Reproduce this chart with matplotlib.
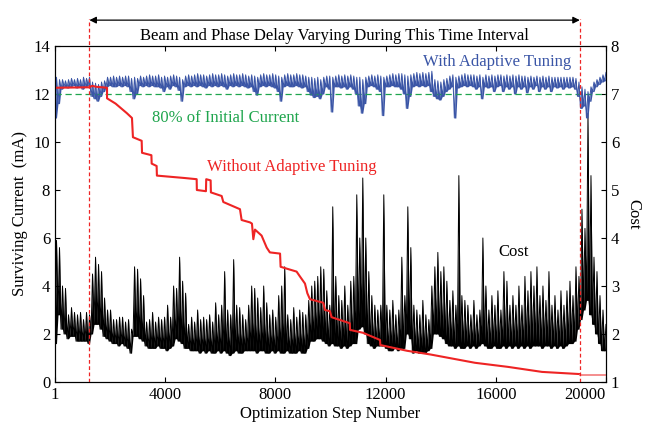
import numpy as np
import matplotlib
matplotlib.use('Agg')
import matplotlib.pyplot as plt

plt.rcParams['font.family'] = 'serif'
plt.rcParams['font.serif'] = ['Liberation Serif', 'DejaVu Serif']

# ---- data ----
# cost: alternating low / high readings of the dense noisy trace (right axis)
cost = [
    1.8, 3.95, 2.4, 3.8, 2.1, 3.0, 2.0, 2.95, 1.9, 2.4, 1.95, 2.55, 1.95, 2.45, 1.85, 2.4, 1.85, 2.45, 1.85, 2.3,
    1.85, 2.45, 1.8, 2.4, 2.0, 3.25, 2.2, 3.6, 2.2, 3.45, 2.1, 3.3, 1.95, 2.75, 1.9, 2.5, 1.85, 2.5, 1.8, 2.3,
    1.8, 2.3, 1.75, 2.35, 1.8, 2.35, 1.75, 2.25, 1.7, 2.3, 1.6, 2.1, 1.95, 3.4, 1.95, 3.35, 1.9, 3.15, 1.85, 2.8,
    1.75, 2.25, 1.7, 2.3, 1.7, 2.45, 1.7, 2.25, 1.75, 2.35, 1.7, 2.3, 1.7, 2.35, 1.65, 2.6, 1.7, 2.35, 1.75, 3.0,
    1.9, 2.95, 1.85, 3.6, 1.8, 3.1, 1.7, 2.85, 1.7, 2.2, 1.65, 2.35, 1.65, 2.25, 1.65, 2.5, 1.6, 2.3, 1.65, 2.35,
    1.6, 2.3, 1.65, 2.4, 1.6, 2.25, 1.6, 2.65, 1.65, 2.4, 1.6, 2.6, 1.65, 3.3, 1.6, 2.5, 1.55, 2.4, 1.6, 3.55,
    1.65, 2.6, 1.6, 2.55, 1.6, 2.4, 1.65, 2.3, 1.65, 2.6, 1.65, 3.0, 1.65, 2.95, 1.6, 2.75, 1.65, 2.55, 1.65, 3.0,
    1.6, 2.65, 1.6, 2.4, 1.65, 2.5, 1.6, 2.35, 1.65, 2.8, 1.6, 3.0, 1.6, 3.4, 1.65, 2.4, 1.6, 2.3, 1.6, 2.55,
    1.6, 2.35, 1.65, 2.5, 1.6, 2.45, 1.6, 2.4, 1.7, 2.7, 1.85, 3.0, 1.85, 3.1, 1.9, 3.2, 1.9, 3.4, 1.85, 3.35,
    1.8, 2.9, 1.75, 2.6, 1.8, 4.65, 1.75, 3.2, 1.75, 2.8, 1.7, 2.7, 1.75, 3.0, 1.7, 2.6, 1.75, 3.1, 1.8, 3.2,
    1.8, 4.9, 2.1, 4.0, 2.15, 5.25, 2.0, 4.0, 1.8, 3.3, 1.75, 2.8, 1.7, 2.6, 1.75, 2.5, 1.75, 2.6, 1.75, 4.9,
    1.7, 2.6, 1.65, 2.5, 1.65, 2.7, 1.7, 2.4, 1.65, 2.5, 1.7, 3.6, 1.7, 2.8, 2.0, 4.65, 1.9, 3.8, 1.6, 2.6,
    1.65, 2.5, 1.6, 2.4, 1.6, 2.7, 1.6, 2.4, 1.65, 2.3, 1.7, 3.0, 2.0, 3.4, 2.0, 3.7, 1.95, 3.3, 1.9, 3.4,
    1.8, 3.1, 1.75, 2.7, 1.75, 2.9, 1.7, 2.6, 1.75, 5.3, 1.7, 2.8, 1.7, 2.7, 1.75, 2.6, 1.7, 2.4, 1.75, 2.7,
    1.7, 2.4, 1.75, 2.5, 1.8, 4.0, 1.75, 3.0, 1.7, 2.5, 1.7, 2.8, 1.75, 2.6, 1.7, 2.9, 1.7, 2.5, 1.75, 3.3,
    1.7, 3.1, 1.75, 2.6, 1.7, 2.8, 1.75, 2.6, 1.7, 3.0, 1.75, 2.6, 1.7, 3.2, 1.75, 2.9, 1.7, 3.3, 1.75, 3.0,
    1.75, 3.4, 1.75, 2.8, 1.7, 3.0, 1.75, 2.7, 1.75, 3.3, 1.7, 2.6, 1.75, 2.8, 1.7, 2.5, 1.75, 2.9, 1.7, 2.6,
    1.75, 2.9, 1.8, 3.1, 1.8, 2.8, 1.85, 3.4, 2.1, 3.2, 2.3, 4.6, 2.5, 4.2, 2.7, 6.6, 2.4, 5.3, 2.2, 3.6,
    2.0, 3.3, 1.8, 2.8, 1.65, 2.5, 1.65, 2.2,
]

# surviving current with adaptive tuning (mA), alternating low / high readings
with_tuning = [
    11.0, 12.7, 11.6, 12.6, 12.2, 12.6, 12.3, 12.55, 12.25, 12.6, 12.3, 12.65, 12.35, 12.6, 12.25, 12.65, 12.3, 12.6, 12.2, 12.7,
    12.3, 12.65, 12.35, 12.7, 11.9, 12.5, 11.8, 12.45, 11.7, 12.4, 11.9, 12.5, 12.1, 12.55, 12.3, 12.7, 12.35, 12.7, 12.3, 12.75,
    12.3, 12.7, 12.35, 12.75, 12.3, 12.7, 12.35, 12.75, 12.3, 12.75, 12.1, 12.65, 11.8, 12.7, 12.0, 12.65, 12.35, 12.75, 12.3, 12.7,
    12.35, 12.75, 12.3, 12.8, 12.35, 12.75, 12.3, 12.75, 12.3, 12.8, 12.25, 12.7, 12.1, 12.75, 12.3, 12.7, 12.2, 12.75, 12.35, 12.8,
    12.3, 12.75, 12.15, 12.7, 11.7, 12.6, 12.3, 12.75, 12.35, 12.8, 12.3, 12.75, 12.35, 12.8, 12.3, 12.85, 12.35, 12.8, 12.3, 12.8,
    12.25, 12.75, 12.35, 12.8, 12.3, 12.85, 12.35, 12.8, 12.3, 12.8, 12.35, 12.85, 12.3, 12.8, 12.2, 12.75, 12.35, 12.8, 12.3, 12.85,
    12.35, 12.8, 12.3, 12.8, 12.35, 12.85, 12.3, 12.8, 12.25, 12.75, 12.3, 12.8, 12.1, 12.75, 11.95, 12.7, 12.3, 12.8, 12.35, 12.85,
    12.3, 12.8, 12.35, 12.8, 12.3, 12.85, 12.25, 12.8, 12.1, 12.75, 11.7, 12.7, 12.3, 12.8, 12.35, 12.85, 12.3, 12.8, 12.3, 12.8,
    12.35, 12.85, 12.3, 12.8, 12.25, 12.8, 12.3, 12.75, 12.1, 12.7, 11.95, 12.7, 11.85, 12.65, 11.9, 12.7, 11.8, 12.6, 12.0, 12.7,
    12.3, 12.75, 12.2, 12.75, 11.25, 12.7, 12.3, 12.75, 12.3, 12.8, 12.25, 12.75, 12.3, 12.8, 12.2, 12.75, 12.3, 12.8, 12.2, 12.75,
    12.0, 12.7, 11.5, 12.7, 11.2, 12.6, 11.6, 12.7, 12.3, 12.75, 12.35, 12.8, 12.3, 12.75, 12.2, 12.8, 12.1, 12.75, 11.1, 12.7,
    12.3, 12.75, 12.3, 12.8, 12.35, 12.85, 12.3, 12.8, 12.3, 12.85, 12.2, 12.85, 12.0, 12.8, 11.4, 12.75, 11.9, 12.8, 12.3, 12.85,
    12.35, 12.9, 12.3, 12.85, 12.35, 12.9, 12.3, 12.85, 12.35, 12.9, 12.1, 12.95, 11.9, 12.6, 11.8, 12.55, 11.75, 12.5, 11.9, 12.6,
    12.1, 12.65, 12.2, 12.75, 12.3, 12.8, 11.0, 12.7, 12.25, 12.75, 12.3, 12.8, 12.35, 12.85, 12.3, 12.8, 12.35, 12.8, 12.3, 12.8,
    12.2, 12.75, 12.3, 12.8, 11.8, 12.7, 12.3, 12.8, 12.25, 12.75, 12.3, 12.8, 12.1, 12.75, 12.3, 12.8, 12.35, 12.8, 12.1, 12.75,
    12.3, 12.8, 12.2, 12.75, 12.3, 12.8, 12.0, 12.75, 12.3, 12.8, 12.2, 12.75, 12.3, 12.75, 12.05, 12.7, 12.3, 12.75, 12.2, 12.7,
    12.35, 12.75, 12.1, 12.7, 12.3, 12.75, 12.2, 12.7, 12.3, 12.75, 12.1, 12.7, 12.3, 12.7, 12.25, 12.7, 12.3, 12.7, 12.2, 12.7,
    12.3, 12.7, 12.25, 12.7, 12.3, 12.7, 12.2, 12.65, 11.9, 12.5, 11.4, 12.3, 11.5, 12.2, 11.0, 12.1, 11.7, 12.3, 12.1, 12.5,
    12.3, 12.6, 12.4, 12.7, 12.5, 12.8, 12.55, 12.9,
]

# surviving current without adaptive tuning (mA)
without_steps = [1, 600, 1250, 1350, 1500, 1890, 1890, 2200, 2610, 2795, 2830, 3147, 3160, 3500, 3510,
                 3690, 3700, 4200, 4700, 5143, 5150, 5480, 5490, 5650, 5660, 6050, 6110, 6715, 6775,
                 7080, 7150, 7200, 7260, 7500, 7685, 7800, 8170, 8190, 8770, 8890, 9075, 9160, 9255,
                 9740, 9800, 9980, 10040, 10700, 10710, 11180, 11800, 11810, 12780, 13610, 15245,
                 16440, 17680, 19050]
without_vals = [12.26, 12.27, 12.28, 12.34, 12.3, 12.26, 11.82, 11.6, 11.2, 11.0, 10.2, 10.05, 9.55, 9.45, 9.1,
                9.0, 8.6, 8.55, 8.5, 8.45, 8.0, 7.95, 8.45, 8.4, 7.9, 7.75, 7.5, 7.2, 6.75,
                6.65, 6.6, 5.95, 6.35, 6.1, 5.6, 5.4, 5.35, 4.8, 4.6, 4.4, 4.1, 3.7, 3.45,
                3.3, 3.0, 2.95, 2.7, 2.45, 2.17, 2.05, 1.75, 1.54, 1.3, 1.15, 0.8,
                0.63, 0.42, 0.33]
after_steps = [19050, 20000]
after_vals = [0.3, 0.3]

initial_80 = 12.0
interval = [1250, 19050]

x_ticks = [1, 4000, 8000, 12000, 16000, 20000]
left_ticks = [0, 2, 4, 6, 8, 10, 12, 14]
right_ticks = [1, 2, 3, 4, 5, 6, 7, 8]

BLUE = '#3a55a6'
RED = '#ee2424'
GREEN = '#1fa54d'


def noisy_band(ax, values, color, lw):
    """Draw low/high zigzag readings as a filled noisy band."""
    vals = np.asarray(values)
    x = np.linspace(1, 20000, len(vals))
    floor = np.repeat(vals[0::2], 2)
    ax.fill_between(x, floor, vals, color=color, linewidth=0)
    ax.plot(x, vals, color=color, linewidth=lw)


fig = plt.figure(figsize=(6.47, 4.28), dpi=100)
axc = fig.add_axes([0.085, 0.1075, 0.8516, 0.785])
axm = axc.twinx()
axc.yaxis.tick_right()
axc.yaxis.set_label_position('right')
axm.yaxis.tick_left()
axm.yaxis.set_label_position('left')

# cost trace (drawn underneath the current traces)
noisy_band(axc, cost, 'black', 0.7)
axc.set_xlim(1, 20000)
axc.set_ylim(1, 8)
axc.set_yticks(right_ticks)
axc.set_xticks(x_ticks)
axc.set_xticklabels([str(t) for t in x_ticks])
axc.get_xticklabels()[-1].set_horizontalalignment('right')
axc.set_ylabel('Cost', rotation=270, labelpad=16, fontsize=12)
axc.set_xlabel('Optimization Step Number', fontsize=12, labelpad=2)
axc.tick_params(axis='both', direction='in', length=3.5, labelsize=12, top=True)

# current traces
axm.axhline(initial_80, color=GREEN, linestyle='--', linewidth=0.9, dashes=(5, 3))
noisy_band(axm, with_tuning, BLUE, 0.7)
axm.plot(without_steps, without_vals, color=RED, linewidth=1.5)
axm.plot(after_steps, after_vals, color='#f27a7a', linewidth=1.2)
axm.set_xlim(1, 20000)
axm.set_ylim(0, 14)
axm.set_yticks(left_ticks)
axm.set_ylabel('Surviving Current  (mA)', fontsize=12, labelpad=4)
axm.tick_params(axis='y', direction='in', length=3.5, labelsize=12)

# interval markers
for xv in interval:
    axm.plot([xv, xv], [0, 14 * 1.08], color=RED, linestyle='--', linewidth=0.9,
             dashes=(3, 2), clip_on=False)
axm.annotate('', xy=(interval[0], 14 * 1.077), xytext=(interval[1], 14 * 1.077),
             arrowprops=dict(arrowstyle='<|-|>', color='black', lw=0.9,
                             mutation_scale=10, shrinkA=0, shrinkB=0),
             annotation_clip=False)
axm.text(10130, 14 * 1.03, 'Beam and Phase Delay Varying During This Time Interval',
         ha='center', va='center', fontsize=12, clip_on=False)

axm.text(16045, 13.33, 'With Adaptive Tuning', color=BLUE, ha='center', va='center', fontsize=12)
axm.text(6207, 11.0, '80% of Initial Current', color=GREEN, ha='center', va='center', fontsize=12)
axm.text(8600, 8.96, 'Without Adaptive Tuning', color=RED, ha='center', va='center', fontsize=12)
axm.text(16660, 5.42, 'Cost', color='black', ha='center', va='center', fontsize=12)

fig.savefig('out.png', dpi=100)
